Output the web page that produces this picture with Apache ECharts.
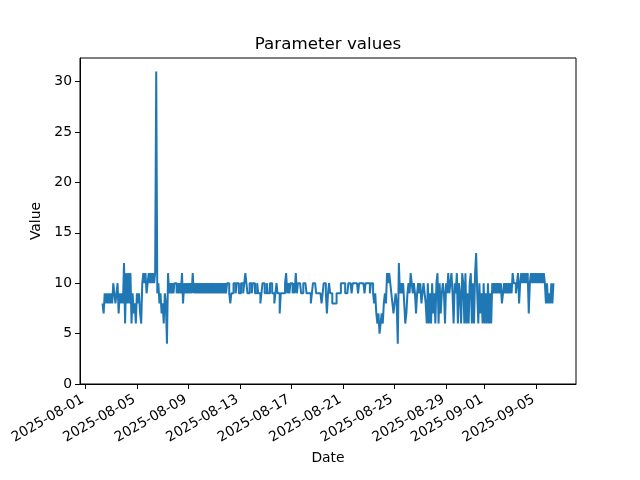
<!DOCTYPE html>
<html>
<head>
<meta charset="utf-8">
<script src="https://cdn.jsdelivr.net/npm/echarts@6/dist/echarts.min.js"></script>
<style>html,body{margin:0;padding:0;background:#fff}#c{width:640px;height:480px}</style>
</head>
<body>
<div id="c"></div>
<script>
// Readings every 2 hours, starting 2025-08-02 08:00
const startTime = '2025-08-02T08:00:00Z';
const stepHours = 2;
const week1 = [
  8,7,9,8,9,8,9,8,9,8,10,9,
  8,9,10,7,9,8,9,8,12,6,11,8,
  11,8,11,6,9,7,8,6,9,8,9,7,
  6,10,11,10,11,9,10,11,10,11,10,11,
  10,11,31,9,10,8,9,7,8,6,9,8,
  4,11,9,10,9,10,9,10,10,9,10,9,
  10,9,11,8,10,9,10,9,10,9,10,9
];
const week2 = [
  11,9,10,9,10,9,10,9,10,9,10,9,
  10,9,10,9,10,9,10,9,10,9,10,9,
  10,9,10,9,10,9,10,9,10,10,9,8,
  9,9,10,10,9,10,10,9,9,10,10,9,
  10,11,10,9,9,10,10,9,10,10,9,9,
  10,9,9,8,9,10,10,9,9,10,9,9,
  10,10,9,9,8,9,10,9,9,7,9,9
];
const week3 = [
  9,9,10,11,9,10,9,10,10,9,10,9,
  11,9,10,10,10,9,9,10,10,10,9,9,
  9,9,8,9,10,10,10,9,9,9,9,9,
  8,9,10,10,9,7,9,10,9,9,8,8,
  8,8,9,9,9,9,10,10,10,10,9,9,
  9,10,10,10,9,10,10,10,10,10,9,10,
  10,10,10,10,9,10,10,10,10,9,10,10
];
const week4 = [
  9,8,9,7,6,7,5,6,7,6,8,9,
  8,11,10,11,10,9,8,7,8,9,8,4,
  12,9,10,9,10,8,6,7,9,10,9,11,
  10,9,10,9,7,9,10,9,10,8,9,10,
  9,8,6,10,6,9,6,10,7,9,6,10,
  11,6,10,7,9,10,9,6,10,9,11,9,
  10,11,9,6,10,9,11,6,10,9,6,11
];
const week5 = [
  10,6,11,6,9,6,10,11,6,10,6,11,
  13,9,6,10,7,9,6,10,6,9,6,10,
  6,9,6,10,9,10,9,10,9,10,9,10,
  8,9,10,9,10,9,10,9,10,9,11,10,
  10,9,10,11,8,10,11,10,11,10,11,10,
  11,7,10,11,10,11,10,11,10,11,10,11,
  10,11,10,11,10,8,10,8,9,8,10,8,
  10
];
const xTickLabels = ['2025-08-01','2025-08-05','2025-08-09','2025-08-13','2025-08-17','2025-08-21','2025-08-25','2025-08-29','2025-09-01','2025-09-05'];
const yTicks = [0,5,10,15,20,25,30];

const values = [].concat(week1, week2, week3, week4, week5);
const t0 = Date.parse(startTime);
const data = values.map((v, i) => [t0 + i * stepHours * 3600000, v]);
const tFirst = data[0][0], tLast = data[data.length - 1][0];
const span = tLast - tFirst;
const xMin = tFirst - 0.05 * span, xMax = tLast + 0.05 * span;
const yMax = 31 + 0.05 * (31 - 4);
const xTickVals = xTickLabels.map(s => Date.parse(s + 'T00:00:00Z'));
function fmt(ms) {
  const d = new Date(ms);
  const p = n => String(n).padStart(2, '0');
  return d.getUTCFullYear() + '-' + p(d.getUTCMonth() + 1) + '-' + p(d.getUTCDate());
}
const font = 'DejaVu Sans';
const chart = echarts.init(document.getElementById('c'), null, {renderer: 'canvas'});
chart.setOption({
  animation: false,
  backgroundColor: '#ffffff',
  title: {
    text: 'Parameter values', left: 323, top: 31, textAlign: 'center',
    textStyle: {fontFamily: font, fontSize: 16.7, fontWeight: 'normal', color: '#000'}
  },
  grid: {left: 80, right: 64, top: 58, bottom: 96, show: true, borderColor: '#000', borderWidth: 1, containLabel: false},
  xAxis: {
    type: 'value', min: xMin, max: xMax,
    name: 'Date', nameLocation: 'middle', nameGap: 66,
    nameTextStyle: {fontFamily: font, fontSize: 13.9, color: '#000'},
    axisLine: {show: true, onZero: false, lineStyle: {color: '#000', width: 1}},
    axisTick: {show: true, length: 5, lineStyle: {color: '#000'}, customValues: xTickVals},
    axisLabel: {
      customValues: xTickVals, rotate: 30, margin: 13, padding: [0, 3, 0, 0],
      formatter: v => fmt(v), fontFamily: font, fontSize: 13.9, color: '#000'
    },
    splitLine: {show: false}
  },
  yAxis: {
    type: 'value', min: 0, max: yMax,
    name: 'Value', nameLocation: 'middle', nameGap: 35,
    nameTextStyle: {fontFamily: font, fontSize: 13.9, color: '#000'},
    axisLine: {show: true, lineStyle: {color: '#000', width: 1}},
    axisTick: {show: true, length: 5, lineStyle: {color: '#000'}, customValues: yTicks},
    axisLabel: {customValues: yTicks, margin: 8, fontFamily: font, fontSize: 13.9, color: '#000'},
    splitLine: {show: false}
  },
  series: [{
    type: 'line', data: data, showSymbol: false, sampling: null, step: 'end',
    lineStyle: {color: '#1f77b4', width: 2}, itemStyle: {color: '#1f77b4'}
  }]
});
</script>
</body>
</html>
